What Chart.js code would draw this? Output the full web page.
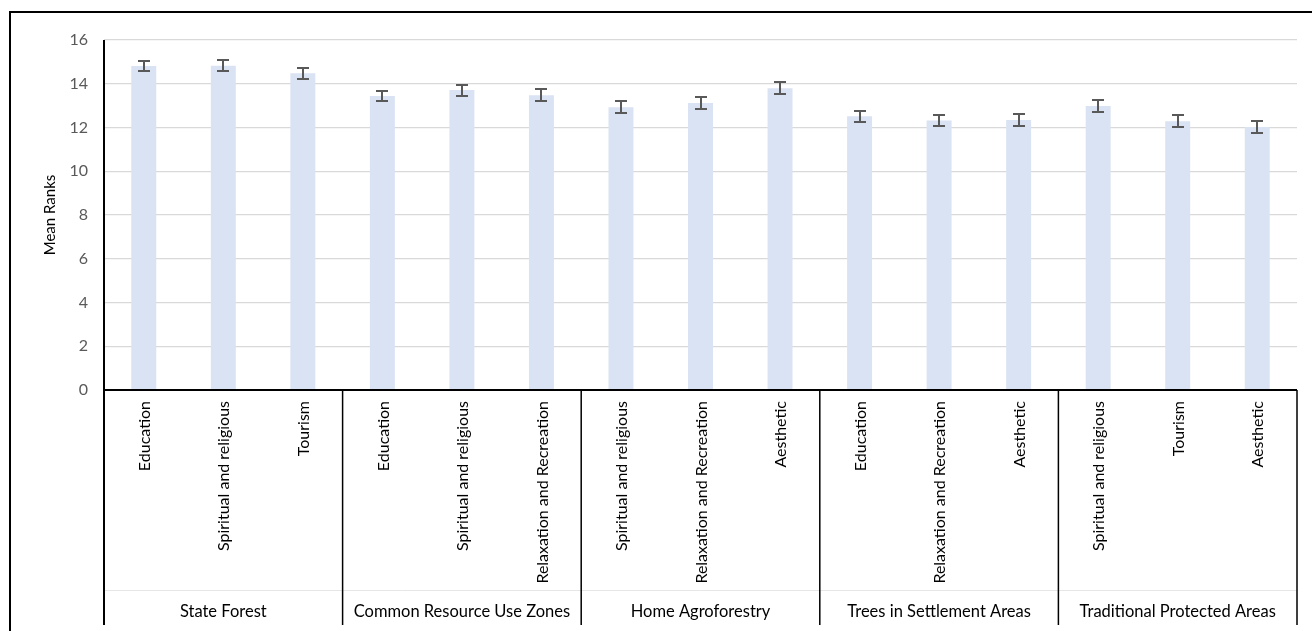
<!DOCTYPE html>
<html lang="en">
<head>
    <meta charset="UTF-8">
    <title>Mean Ranks by Land Use</title>
    <script src="https://cdn.jsdelivr.net/npm/chart.js"></script>
    <style>
        html, body {
            margin: 0;
            padding: 0;
            background: #ffffff;
        }
        .chart-box {
            width: 1312px;
            height: 631px;
            position: relative;
        }
    </style>
</head>
<body>
    <div class="chart-box">
        <canvas id="meanRanksChart"></canvas>
    </div>

    <script>
        const categories = [
            'Education', 'Spiritual and religious', 'Tourism',
            'Education', 'Spiritual and religious', 'Relaxation and Recreation',
            'Spiritual and religious', 'Relaxation and Recreation', 'Aesthetic',
            'Education', 'Relaxation and Recreation', 'Aesthetic',
            'Spiritual and religious', 'Tourism', 'Aesthetic'
        ];
        const groups = [
            'State Forest', 'Common Resource Use Zones', 'Home Agroforestry',
            'Trees in Settlement Areas', 'Traditional Protected Areas'
        ];
        const groupSizes = [3, 3, 3, 3, 3];
        const meanRanks = [14.81, 14.82, 14.48, 13.44, 13.71, 13.48, 12.93, 13.12, 13.80, 12.51, 12.32, 12.34, 12.98, 12.29, 12.02];
        const errors = [0.25, 0.25, 0.26, 0.25, 0.25, 0.26, 0.26, 0.26, 0.26, 0.26, 0.27, 0.26, 0.27, 0.27, 0.27];
        const yTicks = [0, 2, 4, 6, 8, 10, 12, 14, 16];

        const FONT = 'Lato, "Open Sans", sans-serif';

        // frame, y title, error bars and the two-level category axis
        const decorations = {
            id: 'decorations',
            beforeDraw(chart) {
                const c = chart.ctx;
                c.save();
                c.strokeStyle = '#000';
                c.lineWidth = 2;
                c.beginPath();
                c.moveTo(10, 631);
                c.lineTo(10, 12);
                c.lineTo(1312, 12);
                c.stroke();
                c.restore();
            },
            afterDatasetsDraw(chart) {
                const c = chart.ctx;
                const y = chart.scales.y;
                const bars = chart.getDatasetMeta(0).data;
                c.save();
                c.strokeStyle = '#595959';
                c.lineWidth = 2;
                bars.forEach((bar, i) => {
                    const top = Math.round(y.getPixelForValue(meanRanks[i] + errors[i]));
                    const bot = Math.round(y.getPixelForValue(meanRanks[i] - errors[i]));
                    const x = Math.round(bar.x);
                    c.beginPath();
                    c.moveTo(x, top);
                    c.lineTo(x, bot);
                    c.moveTo(x - 6, top);
                    c.lineTo(x + 6, top);
                    c.moveTo(x - 6, bot);
                    c.lineTo(x + 6, bot);
                    c.stroke();
                });
                c.restore();
            },
            afterDraw(chart) {
                const c = chart.ctx;
                const area = chart.chartArea;
                const xs = chart.scales.x;
                const bottom = 625;
                const step = (area.right - area.left) / categories.length;

                c.save();
                // faint divider between the two label rows
                c.strokeStyle = '#e6e6e6';
                c.lineWidth = 1;
                c.beginPath();
                c.moveTo(area.left, 590.5);
                c.lineTo(area.right, 590.5);
                c.stroke();

                // axis lines
                c.strokeStyle = '#000';
                c.lineWidth = 2;
                c.beginPath();
                c.moveTo(area.left, area.top);
                c.lineTo(area.left, bottom);
                c.moveTo(area.left, area.bottom);
                c.lineTo(area.right, area.bottom);
                c.stroke();

                // group separators
                c.lineWidth = 1.5;
                let idx = 0;
                const bounds = [0];
                groupSizes.forEach(n => { idx += n; bounds.push(idx); });
                c.beginPath();
                bounds.slice(1).forEach(b => {
                    const x = area.left + b * step;
                    c.moveTo(x, area.bottom);
                    c.lineTo(x, bottom);
                });
                c.stroke();

                // rotated category labels
                c.fillStyle = '#000';
                c.font = '16px ' + FONT;
                c.textAlign = 'right';
                c.textBaseline = 'middle';
                categories.forEach((label, i) => {
                    const x = xs.getPixelForValue(i);
                    c.save();
                    c.translate(x + 1, area.bottom + 11);
                    c.rotate(-Math.PI / 2);
                    c.fillText(label, 0, 0);
                    c.restore();
                });

                // group labels
                c.font = '16.5px ' + FONT;
                c.textAlign = 'center';
                groups.forEach((g, k) => {
                    const x0 = area.left + bounds[k] * step;
                    const x1 = area.left + bounds[k + 1] * step;
                    c.fillText(g, (x0 + x1) / 2, 612);
                });

                // y axis title
                c.font = '15px ' + FONT;
                c.save();
                c.translate(50, (area.top + area.bottom) / 2);
                c.rotate(-Math.PI / 2);
                c.fillText('Mean Ranks', 0, 0);
                c.restore();
                c.restore();
            }
        };

        const ctx = document.getElementById('meanRanksChart').getContext('2d');
        const meanRanksChart = new Chart(ctx, {
            type: 'bar',
            data: {
                labels: categories,
                datasets: [{
                    label: 'Mean Ranks',
                    data: meanRanks,
                    backgroundColor: 'rgb(218, 227, 243)',
                    borderWidth: 0,
                    barPercentage: 0.314,
                    categoryPercentage: 1
                }]
            },
            options: {
                responsive: true,
                maintainAspectRatio: false,
                animation: false,
                layout: {
                    padding: { top: 40, right: 15, bottom: 241, left: 0 }
                },
                scales: {
                    x: {
                        display: false
                    },
                    y: {
                        min: 0,
                        max: 16,
                        afterBuildTicks(scale) {
                            scale.ticks = yTicks.map(v => ({ value: v }));
                        },
                        afterFit(scale) {
                            scale.width = 104;
                        },
                        border: { display: false },
                        grid: {
                            color: '#d9d9d9',
                            lineWidth: 1.3,
                            drawTicks: false
                        },
                        ticks: {
                            color: '#595959',
                            padding: 16,
                            font: { family: FONT, size: 16 }
                        }
                    }
                },
                plugins: {
                    legend: { display: false },
                    tooltip: { enabled: false }
                }
            },
            plugins: [decorations]
        });
    </script>
</body>
</html>
